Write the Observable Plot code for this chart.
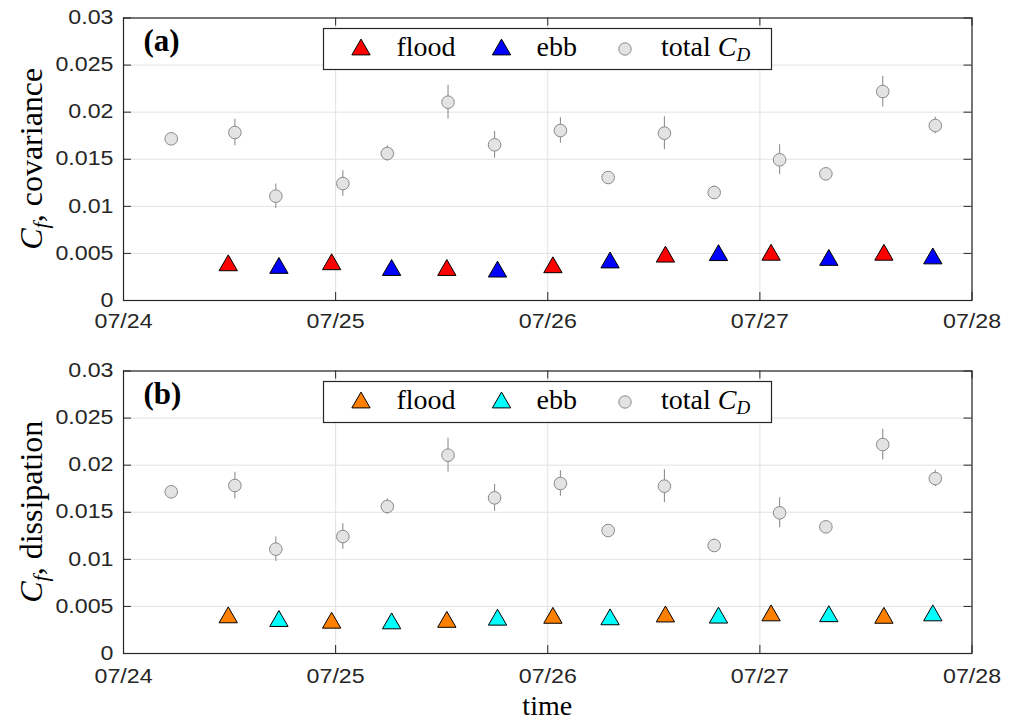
<!DOCTYPE html>
<html>
<head>
<meta charset="utf-8">
<script src="https://cdn.jsdelivr.net/npm/d3@7"></script>
<script src="https://cdn.jsdelivr.net/npm/@observablehq/plot@0.6"></script>
<style>
  html, body { margin: 0; padding: 0; background: #fff; }
  #fig { position: relative; width: 1015px; height: 722px; overflow: hidden; background: #fff; }
  #fig svg { display: block; }
  .panel { position: absolute; left: 0; }
  .legend { position: absolute; overflow: visible; }
</style>
</head>
<body>
<div id="fig"></div>
<script>
// ---------- data ----------
const cdTimes = [
  "2019-07-24T05:24Z", "2019-07-24T12:36Z", "2019-07-24T17:14Z", "2019-07-25T00:49Z",
  "2019-07-25T05:51Z", "2019-07-25T12:43Z", "2019-07-25T17:59Z", "2019-07-26T01:26Z",
  "2019-07-26T06:50Z", "2019-07-26T13:12Z", "2019-07-26T18:50Z", "2019-07-27T02:14Z",
  "2019-07-27T07:28Z", "2019-07-27T13:54Z", "2019-07-27T19:51Z"
];
const cdValues = [0.01717, 0.01784, 0.01108, 0.01242, 0.01561, 0.02106, 0.01653, 0.01805,
                  0.01306, 0.01777, 0.01147, 0.01494, 0.01345, 0.02219, 0.01858];
const cdErrors = [0.0002, 0.00141, 0.0013, 0.00136, 0.00083, 0.00179, 0.00142, 0.00135,
                  0.0003, 0.00175, 0.0007, 0.00159, 0.0002, 0.00163, 0.00088];

const floodTimes = ["2019-07-24T11:51Z", "2019-07-24T23:33Z", "2019-07-25T12:35Z", "2019-07-26T00:35Z",
                    "2019-07-26T13:19Z", "2019-07-27T01:16Z", "2019-07-27T14:02Z"];
const ebbTimes = ["2019-07-24T17:35Z", "2019-07-25T06:20Z", "2019-07-25T18:19Z", "2019-07-26T07:03Z",
                  "2019-07-26T19:19Z", "2019-07-27T07:48Z", "2019-07-27T19:34Z"];

const covFlood = [0.0040, 0.00411, 0.0035, 0.00379, 0.00492, 0.00512, 0.00512];
const covEbb   = [0.00372, 0.0035, 0.00333, 0.0043, 0.00508, 0.00457, 0.00473];
const dissFlood = [0.0041, 0.00353, 0.00362, 0.00405, 0.00419, 0.00431, 0.00405];
const dissEbb   = [0.00371, 0.00346, 0.00385, 0.00389, 0.00407, 0.00422, 0.00431];

const xTickStrings = ["2019-07-24T00:00Z", "2019-07-25T00:00Z", "2019-07-26T00:00Z", "2019-07-27T00:00Z", "2019-07-28T00:00Z"];
const yTicks = [0, 0.005, 0.01, 0.015, 0.02, 0.025, 0.03];

// ---------- helpers ----------
const parse = s => new Date(s);
const xTicks = xTickStrings.map(parse);
const totalRows = cdTimes.map((t, i) => ({time: parse(t), value: cdValues[i], err: cdErrors[i]}));
const rows = (times, vals) => times.map((t, i) => ({time: parse(t), value: vals[i]}));

const SERIF = "'Liberation Serif', 'Times New Roman', serif";
const SANS = "'Liberation Sans', Arial, sans-serif";
const TICKFONT = 19.5;
const STRETCH = 1.19;
const W = 1015, ML = 123, MR = 43.5, MT = 17.5, IH = 282.5;
const IW = W - ML - MR;

function stretchTicks(svg) {
  svg.querySelectorAll('g[aria-label="x-axis tick label"] text, g[aria-label="y-axis tick label"] text').forEach(t => {
    let tr = t.getAttribute("transform");
    if (!tr) {
      const x = +(t.getAttribute("x") || 0), y = +(t.getAttribute("y") || 0);
      tr = `translate(${x},${y})`;
      t.removeAttribute("x");
      if (t.hasAttribute("y") && !/em/.test(t.getAttribute("y"))) t.removeAttribute("y");
    }
    t.setAttribute("transform", tr + ` scale(${STRETCH},1)`);
    t.setAttribute("font-size", TICKFONT);
    t.setAttribute("font-family", SANS);
  });
}

function makePanel({label, ylabel, flood, ebb, floodColor, ebbColor, top, height, xlabel, xPad}) {
  const svg = Plot.plot({
    width: W, height,
    marginLeft: ML, marginRight: MR, marginTop: MT, marginBottom: height - MT - IH,
    style: {fontFamily: SANS, fontSize: TICKFONT + "px", background: "#fff", color: "#262626", overflow: "visible"},
    x: {type: "utc", domain: [xTicks[0], xTicks[4]]},
    y: {domain: [0, 0.03]},
    marks: [
      Plot.gridX(xTicks, {stroke: "#e2e2e2", strokeOpacity: 1, strokeWidth: 1}),
      Plot.gridY(yTicks, {stroke: "#e2e2e2", strokeOpacity: 1, strokeWidth: 1}),
      Plot.ruleX(totalRows, {x: "time", y1: d => d.value - d.err, y2: d => d.value + d.err, stroke: "#8f8f8f", strokeWidth: 1.1}),
      Plot.dot(totalRows, {x: "time", y: "value", r: 6.3, fill: "#e3e3e3", stroke: "#8a8a8a", strokeWidth: 1}),
      Plot.dot(rows(floodTimes, flood), {x: "time", y: "value", symbol: "triangle", r: 6.8, fill: floodColor, stroke: "#000", strokeWidth: 1, dy: 2.6}),
      Plot.dot(rows(ebbTimes, ebb), {x: "time", y: "value", symbol: "triangle", r: 6.8, fill: ebbColor, stroke: "#000", strokeWidth: 1, dy: 2.6}),
      Plot.tickX(xTicks, {x: d => d, insetTop: IH - 8, stroke: "#262626", strokeWidth: 1}),
      Plot.tickX(xTicks, {x: d => d, insetBottom: IH - 8, stroke: "#262626", strokeWidth: 1}),
      Plot.tickY(yTicks, {y: d => d, insetRight: IW - 8, stroke: "#262626", strokeWidth: 1}),
      Plot.tickY(yTicks, {y: d => d, insetLeft: IW - 8, stroke: "#262626", strokeWidth: 1}),
      Plot.axisX({ticks: xTicks, tickSize: 0, tickPadding: xPad, tickFormat: d3.utcFormat("%m/%d"), label: null,
        fill: "#262626", fontSize: TICKFONT, fontFamily: SANS}),
      Plot.axisY({ticks: yTicks, tickSize: 0, tickPadding: 10, tickFormat: d => String(d), label: null,
        fill: "#262626", fontSize: TICKFONT, fontFamily: SANS}),
      Plot.frame({stroke: "#262626", strokeWidth: 1.2}),
      Plot.text([label], {frameAnchor: "top-left", dx: 20, dy: 11, lineAnchor: "top", textAnchor: "start",
        fontFamily: SERIF, fontWeight: "bold", fontSize: 31, fill: "#000"})
    ]
  });
  stretchTicks(svg);
  svg.classList.add("panel");
  svg.style.top = top + "px";

  const ns = "http://www.w3.org/2000/svg";
  const yl = document.createElementNS(ns, "text");
  yl.setAttribute("transform", `translate(42,${MT + IH / 2}) rotate(-90)`);
  yl.setAttribute("text-anchor", "middle");
  yl.setAttribute("font-family", SERIF);
  yl.setAttribute("font-size", "32");
  yl.setAttribute("fill", "#000");
  yl.innerHTML = `<tspan font-style="italic">C</tspan><tspan font-style="italic" font-size="22" dy="6">f</tspan><tspan dy="-6">, ${ylabel}</tspan>`;
  svg.appendChild(yl);

  if (xlabel) {
    const xl = document.createElementNS(ns, "text");
    xl.setAttribute("x", ML + IW / 2);
    xl.setAttribute("y", 362);
    xl.setAttribute("text-anchor", "middle");
    xl.setAttribute("font-family", SERIF);
    xl.setAttribute("font-size", "28");
    xl.setAttribute("fill", "#000");
    xl.textContent = xlabel;
    svg.appendChild(xl);
  }
  document.getElementById("fig").appendChild(svg);

  const lg = d3.create("svg").attr("class", "legend").attr("width", 450).attr("height", 43)
    .style("left", "323px").style("top", (top + 28) + "px");
  lg.append("rect").attr("x", 0.5).attr("y", 0.5).attr("width", 448).attr("height", 41)
    .attr("fill", "#fff").attr("stroke", "#262626").attr("stroke-width", 1.2);
  const tri = "M0,-7.9L9.15,7.9L-9.15,7.9Z";
  lg.append("path").attr("d", tri).attr("transform", "translate(38,19)").attr("fill", floodColor).attr("stroke", "#000");
  lg.append("path").attr("d", tri).attr("transform", "translate(178.5,19)").attr("fill", ebbColor).attr("stroke", "#000");
  lg.append("circle").attr("cx", 302).attr("cy", 21).attr("r", 6.2).attr("fill", "#e3e3e3").attr("stroke", "#8a8a8a");
  const txt = (x, s) => lg.append("text").attr("x", x).attr("y", 28).attr("font-family", SERIF)
    .attr("font-size", 28).attr("fill", "#000").text(s);
  txt(73.5, "flood");
  txt(213.5, "ebb");
  const t3 = lg.append("text").attr("x", 338).attr("y", 28).attr("font-family", SERIF).attr("font-size", 28).attr("fill", "#000");
  t3.append("tspan").text("total ");
  t3.append("tspan").attr("font-style", "italic").text("C");
  t3.append("tspan").attr("font-style", "italic").attr("font-size", 19).attr("dy", 5).text("D");
  document.getElementById("fig").appendChild(lg.node());
}

makePanel({label: "(a)", ylabel: "covariance", flood: covFlood, ebb: covEbb,
  floodColor: "#ff0000", ebbColor: "#0000ff", top: 0, height: 353, xPad: 14});
makePanel({label: "(b)", ylabel: "dissipation", flood: dissFlood, ebb: dissEbb,
  floodColor: "#ff8000", ebbColor: "#00ffff", top: 353, height: 369, xlabel: "time", xPad: 16});
</script>
</body>
</html>
